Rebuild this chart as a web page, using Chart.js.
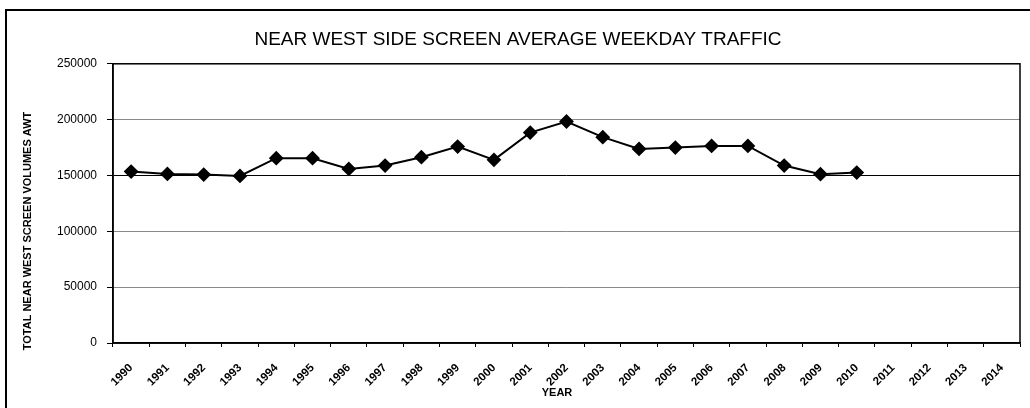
<!DOCTYPE html>
<html><head><meta charset="utf-8">
<script src="https://cdn.jsdelivr.net/npm/chart.js@4.4.1/dist/chart.umd.min.js"></script>
<style>html,body{margin:0;padding:0;background:#fff;}#wrap{width:1030px;height:408px;position:relative;}</style>
</head><body><div id="wrap"><canvas id="c" width="1030" height="408"></canvas></div>
<script>
const years = ['1990','1991','1992','1993','1994','1995','1996','1997','1998','1999','2000','2001','2002','2003','2004','2005','2006','2007','2008','2009','2010','2011','2012','2013','2014'];
const awt = [153500,151400,150800,149600,165500,165500,155900,158900,166400,175900,164000,188400,198300,184300,173800,175000,176500,176500,158900,151200,152600,null,null,null,null];
const yMin = 0, yMax = 250000, yStep = 50000;
const chartTitle = 'NEAR WEST SIDE SCREEN AVERAGE WEEKDAY TRAFFIC';
const yTitle = 'TOTAL NEAR WEST SCREEN VOLUMES AWT';
const xTitle = 'YEAR';
const FONT = "'Liberation Sans', Arial, sans-serif";

const framePlugin = {
  id: 'frame',
  beforeDraw(chart) {
    const ctx = chart.ctx;
    ctx.save();
    ctx.fillStyle = '#fff';
    ctx.fillRect(0, 0, chart.width, chart.height);
    ctx.strokeStyle = '#000';
    ctx.lineWidth = 2;
    ctx.strokeRect(6, 10, 1100, 500);
    ctx.restore();
  },
  beforeDatasetsDraw(chart) {
    const a = chart.chartArea, ctx = chart.ctx;
    ctx.save();
    ctx.strokeStyle = '#000';
    ctx.lineWidth = 1.5;
    ctx.strokeRect(a.left, a.top, a.right - a.left, a.bottom - a.top);
    ctx.restore();
  },
  afterDraw(chart) {
    const ctx = chart.ctx;
    ctx.save();
    ctx.fillStyle = '#000';
    ctx.font = 'bold 11px ' + FONT;
    ctx.textAlign = 'center';
    ctx.textBaseline = 'alphabetic';
    ctx.fillText(xTitle, 557, 396);
    ctx.translate(31, 231);
    ctx.rotate(-Math.PI / 2);
    ctx.fillText(yTitle, 0, 0);
    ctx.restore();
  }
};

new Chart(document.getElementById('c'), {
  type: 'line',
  data: {
    labels: years,
    datasets: [{
      data: awt,
      borderColor: '#000',
      borderWidth: 2,
      pointStyle: 'rectRot',
      pointRadius: 6,
      pointBackgroundColor: '#000',
      pointBorderColor: '#000',
      tension: 0,
      spanGaps: false
    }]
  },
  options: {
    responsive: false,
    animation: false,
    layout: { padding: { left: 16, right: 10, top: 0, bottom: 0 } },
    plugins: {
      legend: { display: false },
      tooltip: { enabled: false },
      title: {
        display: true,
        text: chartTitle,
        color: '#000',
        font: { family: FONT, size: 19, weight: 'normal' },
        padding: { top: 28, bottom: 13 }
      }
    },
    scales: {
      x: {
        offset: true,
        afterFit(s) { s.height = 65; },
        grid: { offset: true, drawOnChartArea: false, drawTicks: true, tickLength: 4, tickColor: '#000' },
        border: { color: '#000', width: 1.5 },
        ticks: {
          autoSkip: false, maxRotation: 45, minRotation: 45, padding: 14,
          color: '#000', font: { family: FONT, size: 11.5, weight: 'bold' }
        }
      },
      y: {
        min: yMin, max: yMax,
        afterFit(s) { s.width = 97; },
        grid: {
          color: (c) => (c.tick && c.tick.value === 150000) ? '#000' : '#8a8a8a',
          lineWidth: 1, drawTicks: true, tickLength: 6, tickColor: '#000'
        },
        border: { color: '#000', width: 1.5 },
        ticks: {
          stepSize: yStep, padding: 10, color: '#000',
          font: { family: FONT, size: 12 },
          callback: (v) => String(v)
        }
      }
    }
  },
  plugins: [framePlugin]
});
</script>
</body></html>
